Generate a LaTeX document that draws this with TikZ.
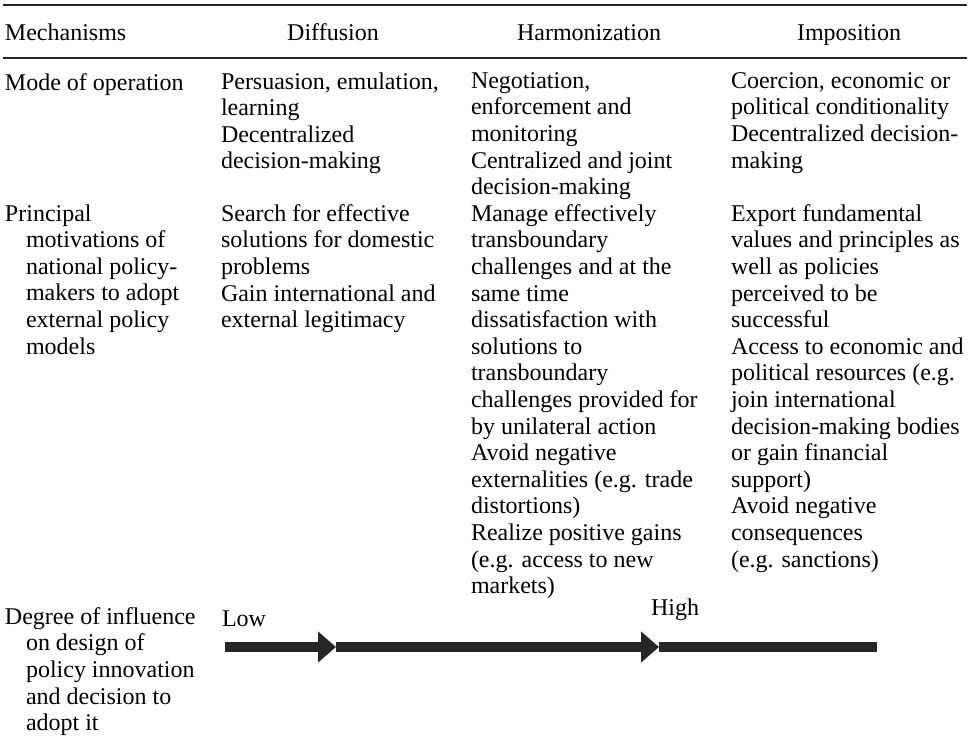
\documentclass[tikz,border=0pt]{standalone}
\usepackage{fontspec}
\setmainfont{Liberation Serif}
\usetikzlibrary{arrows.meta}

\newcommand{\tabColOne}{5}
\newcommand{\tabColTwo}{221}
\newcommand{\tabColThree}{471}
\newcommand{\tabColFour}{731}
\newcommand{\hangin}{\hspace*{21pt}}
\tikzset{
  tb base/.style={font=\fontsize{24}{26.6}\selectfont, inner sep=0pt, outer sep=0pt},
  tb cell/.style={tb base, anchor=north west, align=left, yshift=18.62pt,
    execute at begin node=\strut},
  tb head/.style={tb base, anchor=base},
  tb rule/.style={line width=2pt, black!85},
  tb scale/.style={line width=10pt, black!85},
  tb tip/.style={tb scale, -{Triangle[length=18pt,width=30pt]}},
}

\begin{document}
\begin{tikzpicture}[x=1pt, y=-1pt]
\useasboundingbox (0,0) rectangle (969,743);

% rules
\coordinate (topl) at (3,5);
\coordinate (topr) at (967,5);
\coordinate (midl) at (3,58);
\coordinate (midr) at (967,58);
\draw [tb rule] (topl) -- (topr);
\draw [tb rule] (midl) -- (midr);

% header
\node (mech) [tb cell] at (\tabColOne,41) {Mechanisms};
\node (diff) [tb head] at (333,41) {Diffusion};
\node (harm) [tb head] at (589,41) {Harmonization};
\node (impo) [tb head] at (849,41) {Imposition};

% mode of operation
\node (modelab)  [tb cell] at (\tabColOne,91) {Mode of operation};
\node (modediff) [tb cell] at (\tabColTwo,91)
  {Persuasion, emulation,\\learning\\Decentralized\\decision-making};
\node (modeharm) [tb cell] at (\tabColThree,91)
  {Negotiation,\\enforcement and\\monitoring\\Centralized and joint\\decision-making};
\node (modeimpo) [tb cell] at (\tabColFour,91)
  {Coercion, economic or\\political conditionality\\Decentralized decision-\\making};

% motivations
\node (motilab)  [tb cell] at (\tabColOne,223)
  {Principal\\\hangin motivations of\\\hangin national policy-\\\hangin makers to adopt\\\hangin external policy\\\hangin models};
\node (motidiff) [tb cell] at (\tabColTwo,223)
  {Search for effective\\solutions for domestic\\problems\\Gain international and\\external legitimacy};
\node (motiharm) [tb cell] at (\tabColThree,223)
  {Manage effectively\\transboundary\\challenges and at the\\same time\\dissatisfaction with\\solutions to\\transboundary\\challenges provided for\\by unilateral action\\Avoid negative\\externalities (e.g. trade\\distortions)\\Realize positive gains\\(e.g. access to new\\markets)};
\node (motiimpo) [tb cell] at (\tabColFour,223)
  {Export fundamental\\values and principles as\\well as policies\\perceived to be\\successful\\Access to economic and\\political resources (e.g.\\join international\\decision-making bodies\\or gain financial\\support)\\Avoid negative\\consequences\\(e.g. sanctions)};

% degree of influence
\node (degrlab) [tb cell] at (\tabColOne,626)
  {Degree of influence\\\hangin on design of\\\hangin policy innovation\\\hangin and decision to\\\hangin adopt it};
\node (low)  [tb cell] at (222,626) {Low};
\node (high) [tb cell] at (651,615) {High};

\coordinate (scalestart) at (225,647);
\coordinate (tiplow)     at (336,647);
\coordinate (tiphigh)    at (659,647);
\coordinate (scaleend)   at (877,647);
\draw [tb tip]   (scalestart) -- (tiplow);
\draw [tb tip]   (tiplow) -- (tiphigh);
\draw [tb scale] (tiphigh) -- (scaleend);
\end{tikzpicture}
\end{document}
